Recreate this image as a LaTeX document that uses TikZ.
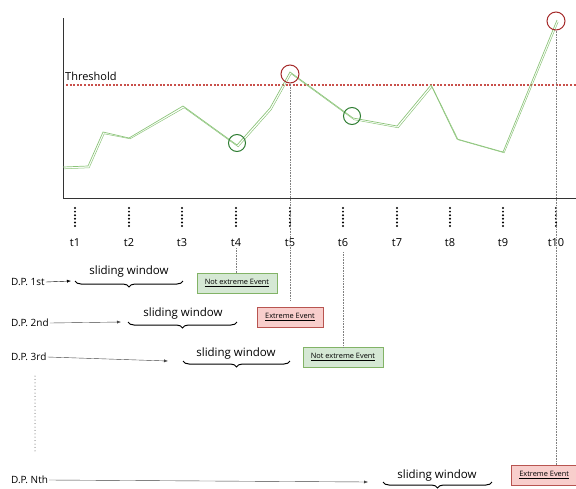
\documentclass[tikz,border=0pt]{standalone}
\usepackage{fontspec}
\setmainfont{Open Sans}
\usetikzlibrary{decorations.pathreplacing,arrows.meta,positioning}
\definecolor{sketchgreen}{HTML}{8CC47A}
\definecolor{ringgreen}{HTML}{2E7D32}
\definecolor{ringred}{HTML}{A52A2A}
\definecolor{threshred}{HTML}{C9504B}
\definecolor{okfill}{HTML}{D5E8D4}
\definecolor{okline}{HTML}{82B366}
\definecolor{badfill}{HTML}{F8CECC}
\definecolor{badline}{HTML}{B85450}
\tikzset{
  eventbox/.style={draw, minimum height=20pt, inner sep=2pt, font=\fontsize{7.4}{8}\selectfont},
  okbox/.style={eventbox, fill=okfill, draw=okline, minimum width=80pt},
  badbox/.style={eventbox, fill=badfill, draw=badline, minimum width=66pt},
  ring/.style={circle, draw, line width=1pt, minimum size=17pt, inner sep=0pt},
  window/.style={decorate, decoration={brace, mirror, amplitude=6pt}, line width=1pt},
  wintext/.style={font=\fontsize{11.5}{13}\selectfont, inner sep=1pt},
  dptext/.style={anchor=west, font=\fontsize{10}{11}\selectfont, inner sep=1pt},
  guide/.style={densely dotted, gray, line width=0.6pt},
  tickdots/.style={line width=2.2pt, line cap=round, dash pattern=on 0pt off 3.6pt},
}
\begin{document}
\begin{tikzpicture}[x=1pt,y=-1pt]
  \useasboundingbox (0,0) rectangle (576,488);
  % axes
  \draw[line width=0.8pt, black!80] (63,18) -- (63,198) -- (576,198);
  % threshold
  \draw[threshred, line width=1.8pt, dash pattern=on 2pt off 1.6pt] (66,85) -- (576,85);
  \node[anchor=south west, inner sep=1pt, font=\fontsize{11}{12}\selectfont] (thr) at (64,82) {Threshold};
  % series (drawn twice for the sketch look)
  \draw[sketchgreen, line width=0.7pt] plot coordinates {(63,167) (88,166) (103,132) (129,138) (183,106) (237,145) (270,108) (290,72) (353,118) (397,126) (431,85) (457,139) (503,152) (557,20)};
  \draw[sketchgreen, line width=0.5pt, xshift=1.2pt, yshift=-0.8pt] plot coordinates {(63,168) (88,167) (103,133) (129,138) (183,107) (237,146) (270,109) (290,73) (353,119) (397,127) (431,86) (457,139) (503,152) (557,21)};
  % marked points
  \node[ring, draw=ringgreen] (c4) at (237,143) {};
  \node[ring, draw=ringred, minimum size=18pt] (c5) at (290,74) {};
  \node[ring, draw=ringgreen] (c6) at (352,116) {};
  \node[ring, draw=ringred, minimum size=18pt] (c10) at (556,21) {};
  % time steps
  \foreach \i/\x in {1/75,2/129,3/182,4/236,5/290,6/343,7/397,8/450,9/503,10/556} {
    \draw[tickdots] (\x,208) -- (\x,227);
    \node[font=\fontsize{11}{12}\selectfont, inner sep=1pt] (t\i) at (\x,243) {t\i};
  }
  % data points and windows
  \node[dptext] (dp1) at (10,282) {D.P. 1st};
  \coordinate (w1a) at (75,281);
  \coordinate (w1b) at (183,281);
  \draw[window] (w1a) -- (w1b);
  \node[wintext] (win1) at (129,272) {sliding window};
  \draw[-{Latex[length=4pt]}] (dp1.east) -- ([xshift=-4pt]w1a);
  \node[okbox] (ev1) at (237,283) {\underline{Not extreme Event}};

  \node[dptext] (dp2) at (10,323) {D.P. 2nd};
  \coordinate (w2a) at (128,322);
  \coordinate (w2b) at (237,322);
  \draw[window] (w2a) -- (w2b);
  \node[wintext] (win2) at (183,314) {sliding window};
  \draw[-{Latex[length=4pt]}, black!75] (dp2.east) -- ([xshift=-7pt]w2a);
  \node[badbox] (ev2) at (290,317) {\underline{Extreme Event}};

  \node[dptext] (dp3) at (10,357) {D.P. 3rd};
  \coordinate (w3a) at (183,361);
  \coordinate (w3b) at (290,361);
  \draw[window] (w3a) -- (w3b);
  \node[wintext] (win3) at (236,354) {sliding window};
  \draw[-{Latex[length=4pt]}, black!75] (dp3.east) -- ([xshift=-15pt]w3a);
  \node[okbox] (ev3) at (343,357) {\underline{Not extreme Event}};

  \draw[line width=1pt, line cap=round, dash pattern=on 0pt off 3.4pt, black!70] (35,376) -- (35,453);

  \node[dptext] (dpn) at (10,480) {D.P. Nth};
  \coordinate (wna) at (383,482);
  \coordinate (wnb) at (492,482);
  \draw[window] (wna) -- (wnb);
  \node[wintext] (winn) at (437,476) {sliding window};
  \draw[-{Latex[length=4pt]}, black!75] (dpn.east) -- ([xshift=-15pt]wna);
  \node[badbox, anchor=north west] (evn) at (511,465) {\underline{Extreme Event}};

  % guides from the chart to the outcomes
  \draw[guide] (c5.south) -- ([yshift=6pt]ev2.north -| c5);
  \draw[guide] (c10.south) -- (evn.north -| c10);
  \draw[guide] (t4.south) -- (ev1.north -| t4);
  \draw[guide] ([yshift=-4pt]t6.south) -- (ev3.north -| t6);
\end{tikzpicture}
\end{document}
